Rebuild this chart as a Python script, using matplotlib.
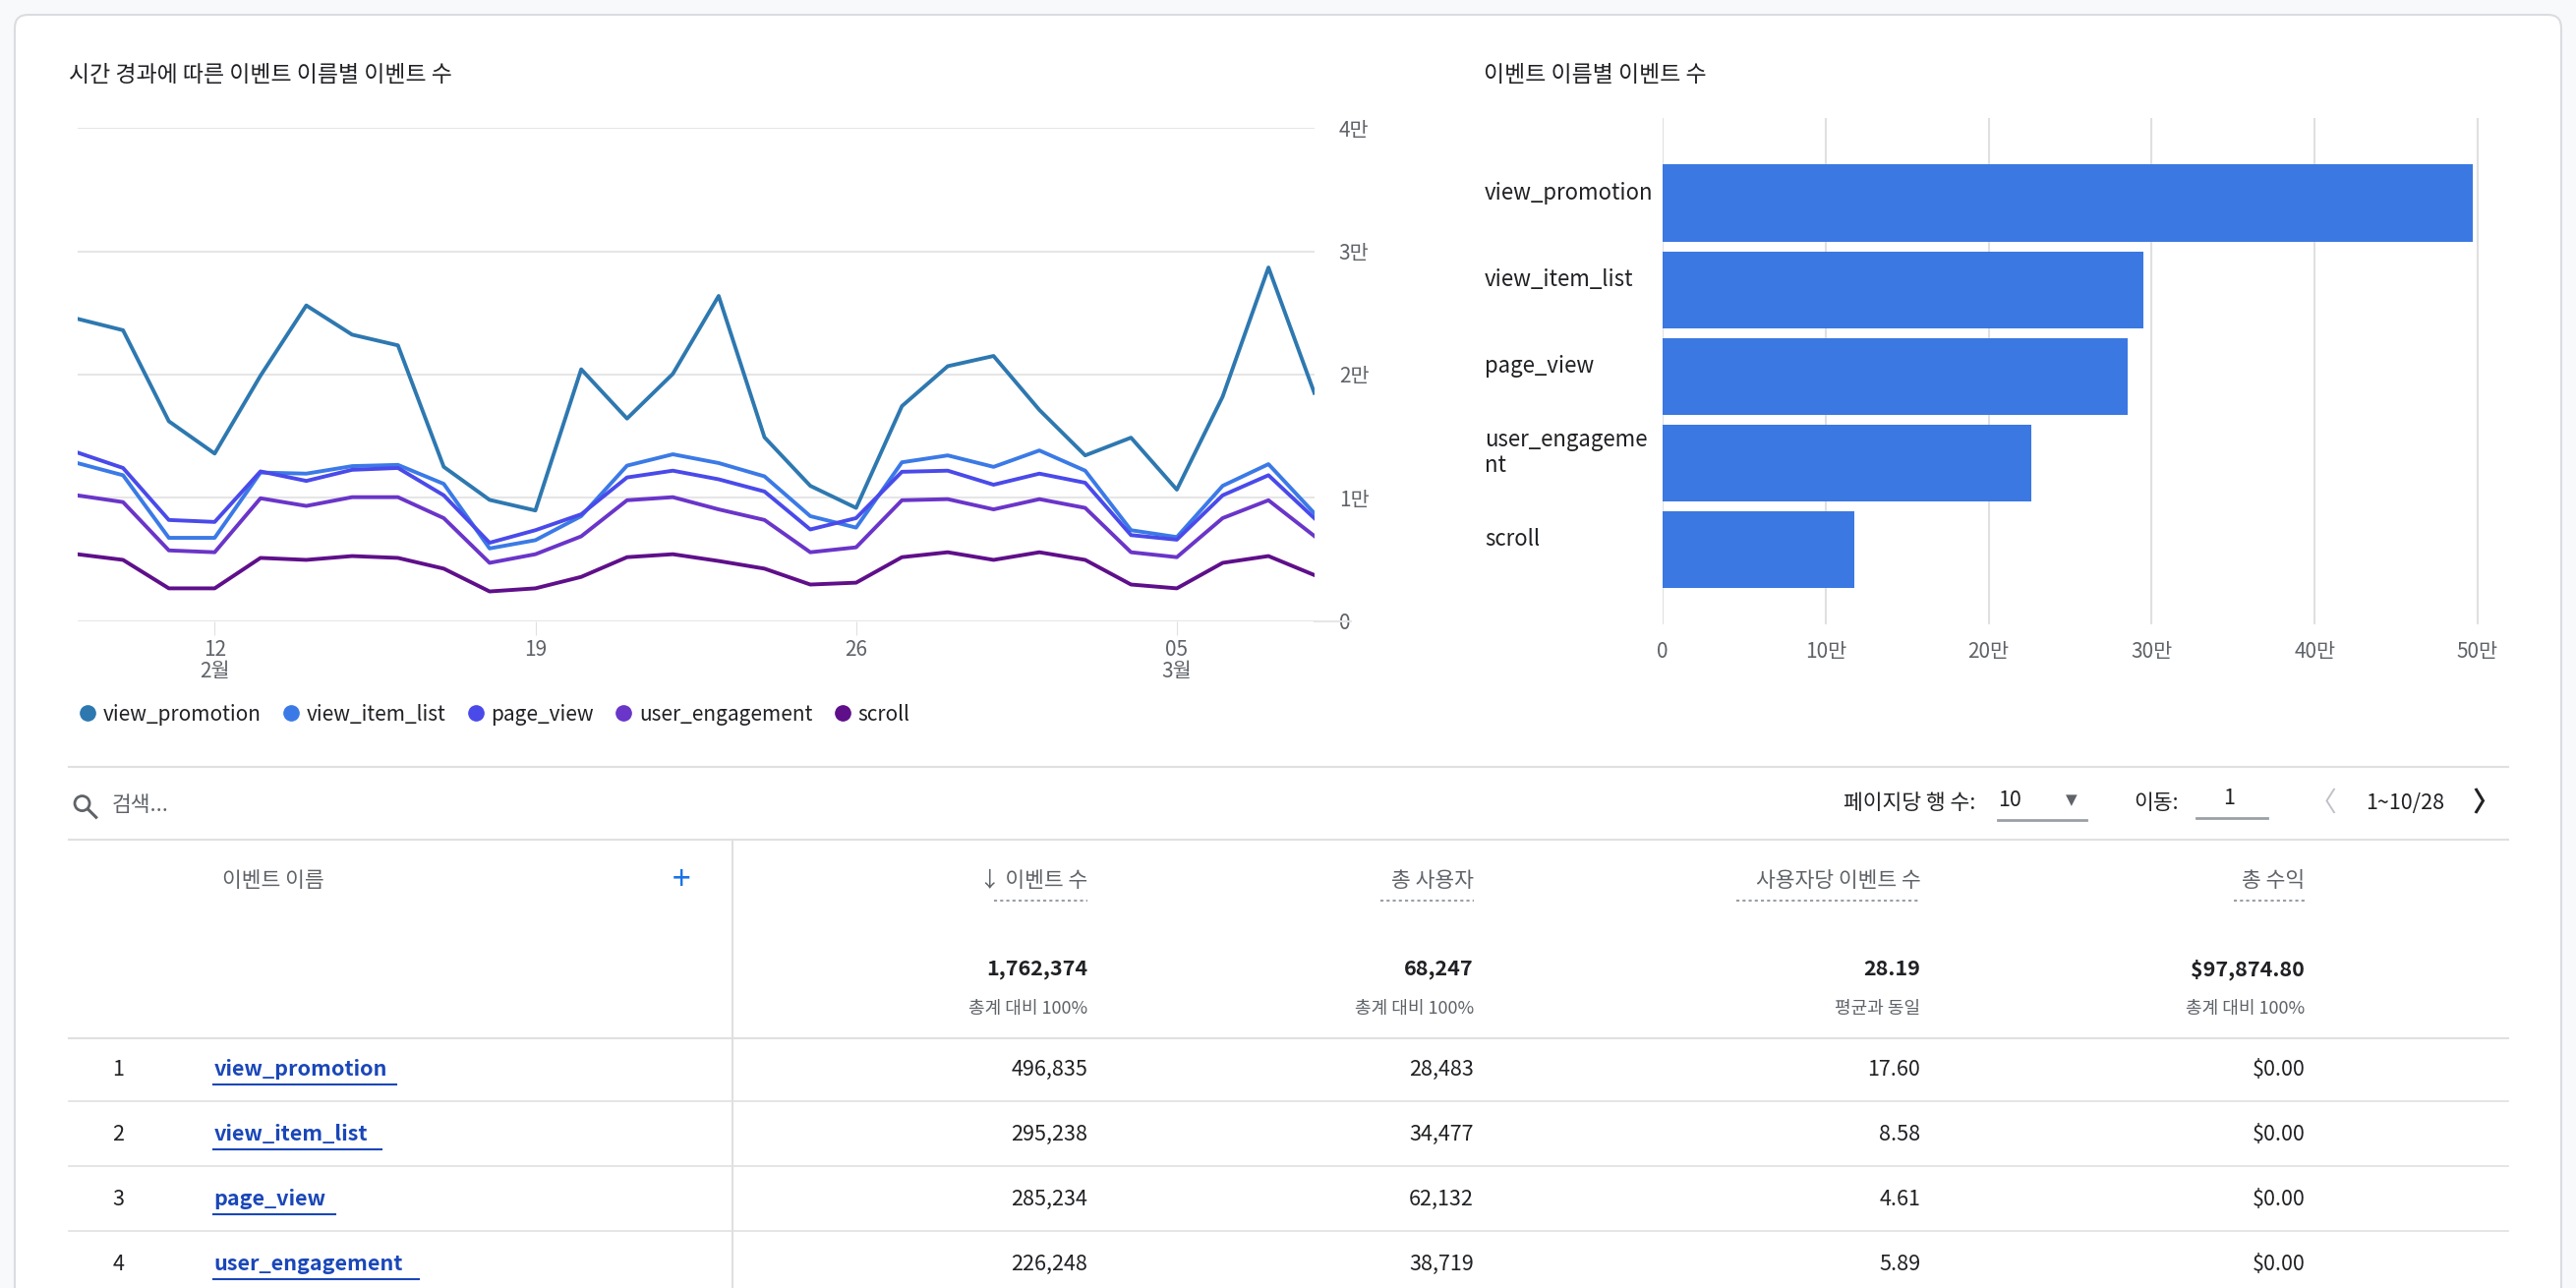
import matplotlib.pyplot as plt
from matplotlib.patches import FancyBboxPatch, Rectangle, Circle

plt.rcParams['font.family'] = ['Noto Sans CJK KR', 'DejaVu Sans']

# 데이터
days = list(range(28))  # 2월 9일 ~ 3월 8일
tick_pos = [3, 10, 17, 24]
tick_lab = ["12\n2월", "19", "26", "05\n3월"]

view_promotion = [24530, 23600, 16210, 13590, 19910, 25610, 23240, 22370, 12510, 9830,
                  8970, 20430, 16430, 20060, 26380, 14910, 10970, 9180, 17440, 20680,
                  21510, 17130, 13440, 14880, 10660, 18210, 28690, 18520]
view_item_list = [12820, 11830, 6750, 6750, 12050, 11960, 12570, 12670, 11130, 5890,
                  6560, 8510, 12610, 13530, 12820, 11740, 8510, 7580, 12880, 13440,
                  12510, 13840, 12200, 7370, 6810, 10970, 12730, 8750]
page_view = [13680, 12420, 8200, 8040, 12140, 11370, 12270, 12420, 10200, 6350,
             7370, 8660, 11650, 12200, 11500, 10510, 7430, 8350, 12110, 12200,
             11060, 11960, 11220, 6970, 6600, 10200, 11830, 8350]
user_engagement = [10200, 9650, 5730, 5580, 9960, 9340, 10050, 10050, 8350, 4720,
                   5420, 6870, 9800, 10050, 9060, 8200, 5580, 5980, 9800, 9890,
                   9060, 9890, 9180, 5580, 5180, 8350, 9800, 6900]
scroll = [5420, 4960, 2650, 2650, 5120, 4960, 5270, 5120, 4250, 2400,
          2650, 3580, 5180, 5420, 4870, 4250, 2960, 3110, 5180, 5580,
          4960, 5580, 4960, 2960, 2650, 4720, 5270, 3730]

series_names = ["view_promotion", "view_item_list", "page_view", "user_engagement", "scroll"]
series_vals = [view_promotion, view_item_list, page_view, user_engagement, scroll]
colors = ["#2e78b0", "#3b7ae6", "#4a4aea", "#6a35c9", "#5f0f8a"]

bar_names = ["view_promotion", "view_item_list", "page_view", "user_engageme\nnt", "scroll"]
bar_vals = [496835, 295238, 285234, 226248, 117500]

table_header = ["이벤트 이름", "이벤트 수", "총 사용자", "사용자당 이벤트 수", "총 수익"]
totals = ["1,762,374", "68,247", "28.19", "$97,874.80"]
totals_sub = ["총계 대비 100%", "총계 대비 100%", "평균과 동일", "총계 대비 100%"]
row_names = ["view_promotion", "view_item_list", "page_view", "user_engagement"]
row_events = ["496,835", "295,238", "285,234", "226,248"]
row_users = ["28,483", "34,477", "62,132", "38,719"]
row_per_user = ["17.60", "8.58", "4.61", "5.89"]
row_revenue = ["$0.00", "$0.00", "$0.00", "$0.00"]

W, H = 1568, 784
fig = plt.figure(figsize=(26.2, 13.1), dpi=100)
fig.patch.set_facecolor("#f8f9fb")

# 배경 레이어 (표시 좌표 기준)
bg = fig.add_axes([0, 0, 1, 1])
bg.set_xlim(0, W)
bg.set_ylim(H, 0)
bg.axis("off")
bg.add_patch(FancyBboxPatch((9, 9), 1550, 800, boxstyle="round,pad=0,rounding_size=8",
                            fc="white", ec="#dadce0", lw=1.5))

def fa(x0, y0, x1, y1):
    return [x0 / W, 1 - y1 / H, (x1 - x0) / W, (y1 - y0) / H]

gray = "#5f6368"
dark = "#202124"
fs = 15.5

# 선 그래프
ax = fig.add_axes(fa(47, 78, 800, 378))
for name, vals, c in zip(series_names, series_vals, colors):
    ax.plot(days, vals, color=c, lw=2.8, label=name)
ax.set_xlim(0, 27)
ax.set_ylim(0, 40000)
ax.set_yticks([0, 10000, 20000, 30000, 40000])
ax.set_yticklabels(["0", "1만", "2만", "3만", "4만"])
ax.yaxis.tick_right()
ax.grid(axis="y", color="#e6e6e6", lw=1.5)
ax.set_xticks(tick_pos)
ax.set_xticklabels(tick_lab, va="top", linespacing=1.0)
ax.tick_params(axis="y", length=0, labelsize=15, labelcolor=gray, pad=18)
ax.tick_params(axis="x", length=10, color="#e0e0e0", labelsize=15, labelcolor=gray)
for s in ax.spines.values():
    s.set_visible(False)
ax.plot([1.0, 1.03], [0, 0], transform=ax.transAxes, color="#e6e6e6", lw=1.5, clip_on=False)
ax.legend(loc="upper left", bbox_to_anchor=(-0.012, -0.13), ncol=5, frameon=False,
          fontsize=15, handlelength=0.7, handletextpad=0.4, columnspacing=1.1,
          labelcolor=dark)
leg = ax.get_legend()
for h, c in zip(leg.legend_handles, colors):
    h.set_linestyle("none")
    h.set_marker("o")
    h.set_markersize(11)
    h.set_markerfacecolor(c)
    h.set_markeredgecolor(c)

bg.text(42, 46, "시간 경과에 따른 이벤트 이름별 이벤트 수", fontsize=16.5, color=dark, va="center")
bg.text(903, 46, "이벤트 이름별 이벤트 수", fontsize=16.5, color=dark, va="center")

# 막대 그래프
bx = fig.add_axes(fa(1012, 72, 1528, 380))
bx.barh(range(len(bar_vals)), bar_vals, height=0.89, color="#3b78e2")
bx.set_xlim(0, 520000)
bx.set_ylim(4.86, -0.98)
bx.set_xticks([0, 100000, 200000, 300000, 400000, 500000])
bx.set_xticklabels(["0", "10만", "20만", "30만", "40만", "50만"])
bx.grid(axis="x", color="#e0e0e0", lw=1.5)
bx.set_axisbelow(True)
bx.set_yticks(range(len(bar_vals)))
bx.set_yticklabels([])
bx.tick_params(axis="x", length=0, labelsize=15, labelcolor=gray, pad=12)
bx.tick_params(axis="y", length=0)
for s in bx.spines.values():
    s.set_visible(False)
for i, n in enumerate(bar_names):
    bx.text(-0.21, i - 0.12, n, transform=bx.get_yaxis_transform(), ha="left", va="center",
            fontsize=16, color=dark, fontweight="medium", linespacing=1.15)

# 검색/페이지 바
bg.plot([42, 1527], [467, 467], color="#e0e0e0", lw=1.5)
bg.add_patch(Circle((50, 489), 4.5, fc="none", ec=gray, lw=2))
bg.plot([53.5, 58.5], [492.5, 497.5], color=gray, lw=2.2)
bg.text(68, 490, "검색...", fontsize=fs, color=gray, va="center")
bg.text(1122, 489, "페이지당 행 수:", fontsize=fs, color=dark, va="center")
bg.text(1216, 487, "10", fontsize=fs, color=dark, va="center")
bg.text(1261, 487, "▼", fontsize=11, color=gray, va="center", ha="center", family=["DejaVu Sans"])
bg.plot([1216, 1270], [499, 499], color="#9aa0a6", lw=2)
bg.text(1299, 489, "이동:", fontsize=fs, color=dark, va="center")
bg.text(1357, 486, "1", fontsize=fs, color=dark, va="center", ha="center")
bg.plot([1337, 1380], [498, 498], color="#9aa0a6", lw=2)
bg.text(1414, 489, "〈", fontsize=20, color="#bdc1c6", va="center", ha="center")
bg.text(1464, 489, "1~10/28", fontsize=fs, color=dark, va="center", ha="center")
bg.text(1513, 489, "〉", fontsize=20, color=dark, va="center", ha="center", fontweight="bold")
bg.plot([42, 1527], [511, 511], color="#e0e0e0", lw=1.5)

# 표
bg.text(166, 536, table_header[0], fontsize=fs, color=gray, va="center", ha="center")
bg.text(415, 536, "+", fontsize=24, color="#1a73e8", va="center", ha="center")
col_r = [662, 897, 1169, 1403]
bg.text(col_r[0], 536, "↓ " + table_header[1], fontsize=fs, color=gray, va="center", ha="right")
for i in range(1, 4):
    bg.text(col_r[i], 536, table_header[i + 1], fontsize=fs, color=gray, va="center", ha="right")
hw = [57, 57, 112, 43]
for r, w in zip(col_r, hw):
    bg.plot([r - w, r], [548, 548], color="#9aa0a6", lw=1.5, ls=(0, (1.5, 1.5)))
for r, t, s in zip(col_r, totals, totals_sub):
    bg.text(r, 590, t, fontsize=fs, color=dark, va="center", ha="right", fontweight="bold")
    bg.text(r, 614, s, fontsize=13, color=gray, va="center", ha="right")

bg.plot([42, 1527], [632, 632], color="#e0e0e0", lw=1.5)
ulen = [111, 102, 74, 125]
for k in range(4):
    yc = 651 + 39.5 * k
    if k % 2 == 0:
        bg.add_patch(Rectangle((42, yc - 19.5), 1485, 39, fc="#f8f9fa", ec="none", zorder=0.5))
    bg.plot([42, 1527], [yc + 19.5, yc + 19.5], color="#e0e0e0", lw=1.2)
    bg.text(72, yc, str(k + 1), fontsize=fs, color=dark, va="center", ha="center")
    bg.text(130, yc, row_names[k], fontsize=fs, color="#1a47b8", va="center",
            fontweight="bold")
    bg.plot([130, 130 + ulen[k]], [yc + 9, yc + 9], color="#1a47b8", lw=1.5)
    vals = [row_events[k], row_users[k], row_per_user[k], row_revenue[k]]
    for r, v in zip(col_r, vals):
        bg.text(r, yc, v, fontsize=fs, color=dark, va="center", ha="right")
bg.plot([446, 446], [511, 790], color="#e0e0e0", lw=1.5, zorder=3)

fig.savefig("out.png", dpi=100, facecolor=fig.get_facecolor())
